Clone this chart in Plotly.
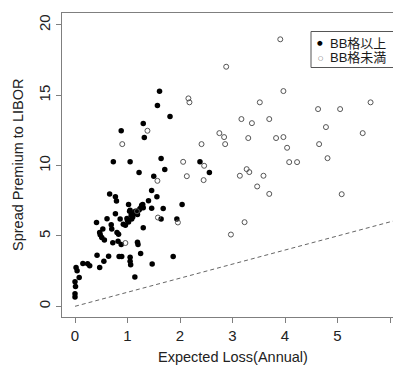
import plotly.graph_objects as go

# BB格以上 (filled)
hi_x = [0.00, 0.00, 0.01, 0.00, 0.02, 0.04, 0.08, 0.15, 0.24, 0.28,
        0.42, 0.47, 0.55, 0.64, 0.84, 0.89, 1.05, 1.05, 1.06, 1.14, 1.25, 1.47, 1.87,
        0.41, 0.47, 0.48, 0.51, 0.56, 0.53, 0.69, 0.70, 0.72, 0.80, 0.83, 0.82, 0.88, 1.19, 1.20,
        0.61, 0.77, 0.86, 0.92, 0.96, 0.99, 1.02, 1.04, 1.07, 1.12, 1.17, 1.19, 1.02, 1.05, 1.30,
        1.08, 1.10, 1.15, 1.22, 1.00,
        1.24, 1.27, 1.30, 1.29, 1.40, 1.46, 1.46, 1.56, 1.64, 1.68, 1.94, 2.04,
        0.66, 0.77, 0.79,
        0.73, 1.05, 1.22, 0.88, 1.50, 1.64, 1.71, 1.30, 1.32, 1.57, 1.61, 1.81, 2.38, 2.56]
hi_y = [0.66, 0.90, 1.40, 1.75, 2.75, 2.52, 2.05, 3.04, 3.02, 2.88,
        3.63, 2.75, 3.20, 3.56, 3.54, 3.54, 3.48, 3.20, 2.95, 2.09, 3.75, 3.00, 3.54,
        5.95, 5.25, 5.08, 4.89, 4.72, 5.50, 5.80, 5.50, 4.52, 5.25, 5.12, 4.63, 4.40, 4.55, 4.40,
        6.22, 6.58, 6.20, 5.84, 5.77, 6.24, 6.00, 6.76, 6.48, 6.60, 6.67, 6.52, 7.24, 6.83, 5.58,
        6.20, 6.35, 6.75, 6.85, 6.10,
        6.95, 7.19, 7.00, 7.24, 7.50, 6.97, 8.24, 7.78, 6.21, 6.95, 6.21, 7.24,
        7.99, 7.78, 7.49,
        10.27, 10.27, 9.51, 12.48, 9.25, 10.51, 9.73, 13.00, 12.00, 14.28, 15.28, 13.50, 10.27, 9.51]

# BB格未満 (open)
lo_x = [0.90, 0.96, 1.18, 1.38, 1.57, 1.58, 1.96, 2.06, 2.13, 2.16, 2.18, 2.41, 2.45, 2.46,
        2.75, 2.84, 2.86, 2.88, 2.97, 3.14, 3.17, 3.23, 3.27, 3.30, 3.32, 3.37, 3.47, 3.52,
        3.59, 3.70, 3.70, 3.83, 3.91, 3.97, 3.97, 4.04, 4.08, 4.23, 4.63, 4.65, 4.78, 4.81,
        5.05, 5.08, 5.48, 5.63]
lo_y = [11.53, 4.50, 6.76, 12.48, 8.92, 6.31, 5.96, 10.27, 9.25, 14.78, 14.50, 11.53, 8.97, 9.99,
        12.31, 12.03, 11.53, 17.03, 5.10, 9.28, 13.31, 5.98, 9.75, 11.96, 9.54, 13.02, 8.52, 14.50,
        9.28, 13.31, 7.99, 11.96, 18.98, 15.30, 12.03, 11.27, 10.25, 10.25, 14.02, 11.53, 12.74, 10.53,
        14.02, 7.97, 12.31, 14.50]

# reference line y = x
ref_x = [0, 6.5]
ref_y = [0, 6.5]

x_ticks = [0, 1, 2, 3, 4, 5, 6]
y_ticks = [0, 5, 10, 15, 20]
legend_labels = ["BB格以上", "BB格未満"]
legend_symbols = ["●", "○"]

FONT = "Liberation Sans, Arial, Noto Sans CJK JP, sans-serif"
AXC = "#7f7f7f"
TXT = "#222222"

fig = go.Figure()
fig.add_trace(go.Scatter(x=ref_x, y=ref_y, mode="lines", showlegend=False,
                         line=dict(color="#666666", width=1, dash="4px,3px"), hoverinfo="skip"))
fig.add_trace(go.Scatter(x=hi_x, y=hi_y, mode="markers", name=legend_labels[0], showlegend=False,
                         marker=dict(symbol="circle", size=5.5, color="#000000")))
fig.add_trace(go.Scatter(x=lo_x, y=lo_y, mode="markers", name=legend_labels[1], showlegend=False,
                         marker=dict(symbol="circle-open", size=5, color="#555555",
                                     line=dict(width=1))))

L, T, B = 62, 13, 48
W, H = 393, 365
pw = W - L
ph = H - T - B


def px_x(p):
    return (p - L) / pw


def px_y(p):
    return 1 - (p - T) / ph


annotations = [
    dict(text="Expected Loss(Annual)", xref="paper", yref="paper",
         x=px_x(233), y=px_y(357), xanchor="center", yanchor="middle",
         showarrow=False, font=dict(size=14.5, color=TXT)),
    dict(text="Spread Premium to LIBOR", xref="paper", yref="paper",
         x=px_x(18), y=0.5, xanchor="center", yanchor="middle", textangle=-90,
         showarrow=False, font=dict(size=14.5, color=TXT)),
]
row_y = [43.5, 57]
sym_sizes = [6.5, 6]
sym_colors = ["#000000", "#555555"]
for lab, sym, ry, ss, sc in zip(legend_labels, legend_symbols, row_y, sym_sizes, sym_colors):
    annotations.append(dict(text=sym, xref="paper", yref="paper", x=px_x(320), y=px_y(ry),
                            xanchor="center", yanchor="middle", showarrow=False,
                            font=dict(size=ss, color=sc, family="DejaVu Sans")))
    annotations.append(dict(text=lab, xref="paper", yref="paper", x=px_x(328), y=px_y(ry),
                            xanchor="left", yanchor="middle", showarrow=False,
                            font=dict(size=13, color="#1a1a1a", family=FONT)))

fig.update_layout(
    width=W, height=H,
    margin=dict(l=L, r=0, t=T, b=B, autoexpand=False),
    paper_bgcolor="white", plot_bgcolor="white",
    font=dict(family=FONT, color=TXT),
    showlegend=False,
    xaxis=dict(range=[-0.2476, (W - 75) / 52.5], tickvals=x_ticks, ticktext=[str(v) for v in x_ticks],
               showgrid=False, zeroline=False, showline=True, linecolor=AXC, linewidth=1, mirror=True,
               ticks="outside", ticklen=5, tickcolor=AXC, tickfont=dict(size=15, color=TXT)),
    yaxis=dict(range=[-0.76, 20.85], tickvals=y_ticks, ticktext=[str(v) for v in y_ticks],
               showgrid=False, zeroline=False, showline=True, linecolor=AXC, linewidth=1, mirror=False,
               ticks="outside", ticklen=5, tickcolor=AXC, tickangle=-90,
               tickfont=dict(size=15, color=TXT)),
    shapes=[dict(type="rect", xref="paper", yref="paper",
                 x0=px_x(311), x1=px_x(440), y0=px_y(67.5), y1=px_y(31.5),
                 line=dict(color="#555555", width=1), fillcolor="white", layer="above")],
    annotations=annotations,
)
fig.write_html("out.html")
